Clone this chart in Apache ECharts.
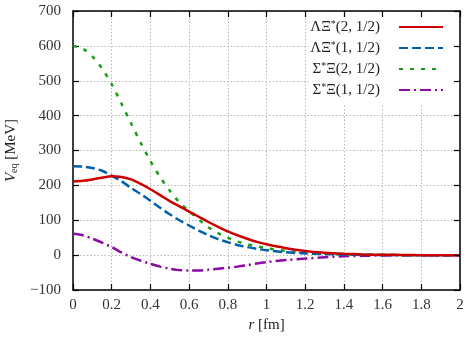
<!DOCTYPE html>
<html>
<head>
<meta charset="utf-8">
<script src="https://cdn.jsdelivr.net/npm/echarts@6/dist/echarts.min.js"></script>
<style>html,body{margin:0;padding:0;background:#fff;}#c{width:469px;height:339px;}</style>
</head>
<body>
<div id="c"></div>
<script>
const rValues = [0,0.05,0.1,0.15,0.2,0.25,0.3,0.35,0.4,0.45,0.5,0.55,0.6,0.65,0.7,0.75,0.8,0.85,0.9,0.95,1.0,1.1,1.2,1.3,1.4,1.5,1.6,1.7,1.8,1.9,2.0];
const lamXi2 = [211,213,217,222,226,224,217,204,189,172,155,140,125,110,95,81,68,57,47,38,31,20,12,7,4,2,1,0.5,0,0,0];
const lamXi1 = [255,254,250,242,228,212,193,175,156,136,117,100,85,70,57,46,37,29,23,18,14,8,5,3,1.5,1,0.5,0,0,0,0];
const sigXi2 = [600,592,570,535,490,435,378,322,270,224,185,151,126,102,80,63,50,39,31,25,20,12,7,4,2,1,0.5,0,0,0,0];
const sigXi1 = [61,57,47,36,23,8,-6,-16,-25,-33,-39,-43,-44,-44,-42,-39,-36,-33,-29,-24,-20,-14,-10,-6,-3,-2,-1,-0.5,0,0,0];
const seriesNames = ['ΛΞ*(2, 1/2)','ΛΞ*(1, 1/2)','Σ*Ξ(2, 1/2)','Σ*Ξ(1, 1/2)'];
const xTicks = [0,0.2,0.4,0.6,0.8,1,1.2,1.4,1.6,1.8,2];
const yTicks = [-100,0,100,200,300,400,500,600,700];

const FONT = '"Liberation Serif", "DejaVu Serif", serif';
const pairs = ys => rValues.map((x,i)=>[x, ys[i]]);

function legendFmt(name){
  const star = name.indexOf('*');
  return '{n|' + name.slice(0,star) + '}{s|*}{n|' + name.slice(star+1) + '}';
}

const chart = echarts.init(document.getElementById('c'), null, {renderer:'canvas'});
const axisCommon = {
  type:'value',
  axisLine:{show:true, onZero:false, lineStyle:{color:'#000', width:1.5}},
  axisTick:{show:true, inside:true, length:6, lineStyle:{color:'#000', width:1.2}},
};
const option = {
  animation:false,
  backgroundColor:'#fff',
  grid:{left:73, right:9, top:11, bottom:49, outerBoundsMode:'none', containLabel:false},
  legend:{
    orient:'vertical', right:9, top:13, align:'right',
    backgroundColor:'#fff',
    padding:[6,16,6,2],
    itemWidth:44, itemHeight:14, itemGap:5,
    data:seriesNames,
    formatter:legendFmt,
    itemStyle:{opacity:0},
    textStyle:{
      padding:[0,14,0,0],
      rich:{
        n:{fontFamily:FONT, fontSize:15, color:'#222', lineHeight:16},
        s:{fontFamily:FONT, fontSize:10, color:'#222', verticalAlign:'top', lineHeight:16, padding:[0,0,6,0]}
      }
    }
  },
  xAxis:[
    Object.assign({}, axisCommon, {
      min:0, max:2, interval:0.2, position:'bottom',
      splitLine:{show:true, lineStyle:{color:'#b8b8b8', type:[1.5,2], width:1}},
      axisLabel:{fontFamily:FONT, fontSize:15, color:'#333', margin:8,
        formatter:v=>String(+v.toFixed(1))},
      name:'{i|r} [fm]', nameLocation:'middle', nameGap:28,
      nameTextStyle:{fontFamily:FONT, fontSize:15, color:'#222',
        rich:{i:{fontFamily:FONT, fontStyle:'italic', fontSize:15, color:'#222'}}}
    }),
    Object.assign({}, axisCommon, {
      min:0, max:2, interval:0.2, position:'top', z:10,
      splitLine:{show:false}, axisLabel:{show:false}
    })
  ],
  yAxis:[
    Object.assign({}, axisCommon, {
      min:-100, max:700, interval:100, position:'left',
      splitLine:{show:true, lineStyle:{color:'#b8b8b8', type:[1.5,2], width:1}},
      axisLabel:{fontFamily:FONT, fontSize:15, color:'#333', margin:12,
        formatter:v=>String(v).replace('-','\u2212')},
      name:'{i|V}{s|eq}{n| [MeV]}', nameLocation:'middle', nameGap:44, nameRotate:90,
      nameTextStyle:{
        rich:{
          i:{fontFamily:FONT, fontStyle:'italic', fontSize:15, color:'#222'},
          s:{fontFamily:FONT, fontSize:10, color:'#222', padding:[6,0,0,0]},
          n:{fontFamily:FONT, fontSize:15, color:'#222'}
        }
      }
    }),
    Object.assign({}, axisCommon, {
      min:-100, max:700, interval:100, position:'right', z:10,
      splitLine:{show:false}, axisLabel:{show:false}
    })
  ],
  series:[
    {name:seriesNames[0], type:'line', data:pairs(lamXi2), smooth:0.3, symbol:'none', z:5,
      itemStyle:{color:'#cc0000'}, lineStyle:{color:'#cc0000', width:2.5, type:'solid'}},
    {name:seriesNames[1], type:'line', data:pairs(lamXi1), smooth:0.3, symbol:'none', z:4,
      itemStyle:{color:'#0060ad'}, lineStyle:{color:'#0060ad', width:2.5, type:[9,4]}},
    {name:seriesNames[2], type:'line', data:pairs(sigXi2), smooth:0.3, symbol:'none', z:3,
      itemStyle:{color:'#1a9e1a'}, lineStyle:{color:'#1a9e1a', width:2.5, type:[4,7]}},
    {name:seriesNames[3], type:'line', data:pairs(sigXi1), smooth:0.3, symbol:'none', z:2,
      itemStyle:{color:'#8b0aa5'}, lineStyle:{color:'#8b0aa5', width:2.5, type:[11,4,2,4]}}
  ]
};
chart.setOption(option);
</script>
</body>
</html>
